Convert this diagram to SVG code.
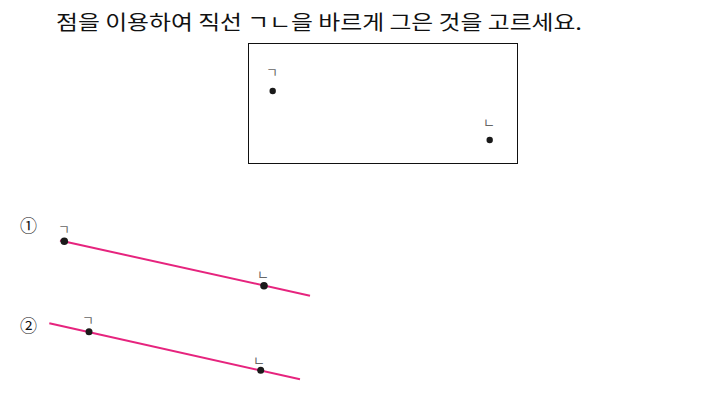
<svg xmlns="http://www.w3.org/2000/svg" width="711" height="414" viewBox="0 0 711 414">
<style>
.t{font-family:"Noto Sans CJK KR","Liberation Sans",sans-serif;fill:#111}
.lb{font-family:"Noto Sans CJK KR",sans-serif;font-size:13px;fill:#666}
.ln{stroke:#e6247e;stroke-width:2;fill:none}
.dot{fill:#1a1a1a}
</style>
<rect width="711" height="414" fill="#fff"/>
<text class="t" x="56" y="30" font-size="20" textLength="526" lengthAdjust="spacingAndGlyphs">점을 이용하여 직선 ㄱㄴ을 바르게 그은 것을 고르세요.</text>
<g id="box">
<rect x="248.5" y="43.5" width="269" height="120" fill="none" stroke="#111" stroke-width="1"/>
<text class="lb" x="266" y="77">ㄱ</text>
<circle class="dot" cx="272.7" cy="91" r="3.2"/>
<text class="lb" x="483" y="127">ㄴ</text>
<circle class="dot" cx="489.7" cy="140" r="3.2"/>
</g>
<g id="connectors">
<line class="ln" x1="60" y1="240.5" x2="310" y2="295.7"/>
<line class="ln" x1="49.3" y1="323.3" x2="300" y2="379.3"/>
</g>
<g id="option1">
<text class="t" x="20" y="232" font-size="17">①</text>
<text class="lb" x="58" y="234">ㄱ</text>
<circle class="dot" cx="64.3" cy="241.3" r="3.8"/>
<text class="lb" x="257" y="279">ㄴ</text>
<circle class="dot" cx="264" cy="285.7" r="3.8"/>
</g>
<g id="option2">
<text class="t" x="20" y="332" font-size="17">②</text>
<text class="lb" x="82" y="325">ㄱ</text>
<circle class="dot" cx="89" cy="331.7" r="3.5"/>
<text class="lb" x="253" y="365">ㄴ</text>
<circle class="dot" cx="260.7" cy="370.3" r="3.5"/>
</g>
</svg>
